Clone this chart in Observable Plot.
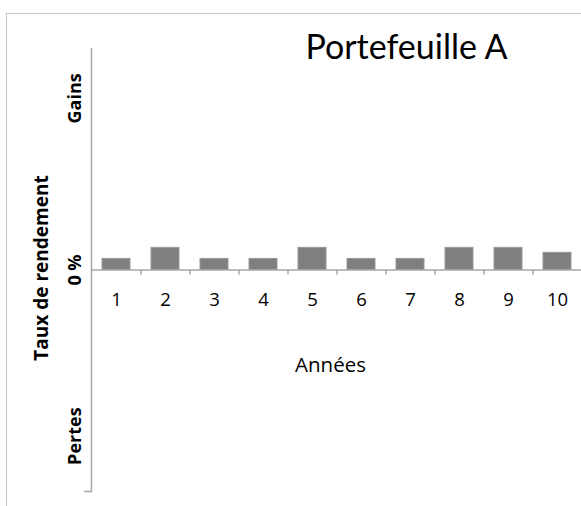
<!DOCTYPE html>
<html>
<head>
<meta charset="utf-8">
<script src="https://cdn.jsdelivr.net/npm/d3@7"></script>
<script src="https://cdn.jsdelivr.net/npm/@observablehq/plot@0.6"></script>
<style>
  html, body { margin: 0; padding: 0; background: #fff; }
  body { width: 581px; height: 506px; position: relative; overflow: hidden; font-family: "Open Sans", sans-serif; }
  #border { position: absolute; left: 6px; top: 13px; width: 600px; height: 520px;
            border-top: 1.5px solid #c4c4c4; border-left: 1.5px solid #c4c4c4; }
  #chart { position: absolute; left: 0; top: 0; }
</style>
</head>
<body>
<div id="border"></div>
<div id="chart"></div>
<script>
// Data
const years = ["1", "2", "3", "4", "5", "6", "7", "8", "9", "10"];
const returns = [1.0, 2.0, 1.0, 1.0, 2.0, 1.0, 1.0, 2.0, 2.0, 1.55];
const yDomain = [-20, 20];
const yTickValues = [15.5, 0, -15];
const yTickLabels = ["Gains", "0 %", "Pertes"];
const title = "Portefeuille A";
const xTitle = "Années";
const yTitle = "Taux de rendement";

const data = years.map((y, i) => ({year: y, value: returns[i]}));
const yLabels = yTickValues.map((v, i) => ({v, label: yTickLabels[i]}));

const W = 581, H = 506, mL = 91, mR = 0, mT = 48, mB = 15;
const step = (W - mL - mR) / years.length;
const OS = "'Open Sans', sans-serif";

const chart = Plot.plot({
  width: W,
  height: H,
  marginLeft: mL,
  marginRight: mR,
  marginTop: mT,
  marginBottom: mB,
  style: {fontFamily: OS, background: "transparent", overflow: "visible"},
  x: {type: "band", domain: years, paddingInner: 0.43, paddingOuter: 0.215, axis: null},
  y: {domain: yDomain, axis: null},
  marks: [
    Plot.frame({anchor: "left", stroke: "#a6a6a6", strokeWidth: 1.5}),
    Plot.axisY({ticks: [yDomain[0]], tickFormat: () => "", tickSize: 7, stroke: "#a6a6a6", strokeWidth: 1.5}),
    Plot.barY(data, {x: "year", y: "value", fill: "#7f7f7f", stroke: "#999999", strokeWidth: 1}),
    Plot.ruleY([0], {stroke: "#a6a6a6", strokeWidth: 1.5}),
    Plot.ruleX(years.slice(0, -1), {x: d => d, y1: 0, y2: -0.45, dx: step / 2, stroke: "#a6a6a6", strokeWidth: 1.5}),
    Plot.text(years, {x: d => d, y: 0, dy: 30, text: d => d, fontSize: 18.5, fill: "#000"}),
    Plot.text(yLabels, {y: "v", text: "label", frameAnchor: "left", dx: -16, rotate: -90, fontSize: 18, fontWeight: "bold", fill: "#000", textAnchor: "middle", lineAnchor: "middle"}),
    Plot.text([yTitle], {y: 0, text: d => d, frameAnchor: "left", dx: -50, dy: -2, rotate: -90, fontSize: 19, fontWeight: "bold", fill: "#000", textAnchor: "middle", lineAnchor: "middle"}),
    Plot.text([xTitle], {y: 0, text: d => d, frameAnchor: "middle", dx: -6, dy: 95, fontSize: 20.5, fill: "#000"}),
    Plot.text([title], {text: d => d, frameAnchor: "top-right", dx: -74, dy: 10, textAnchor: "end", lineAnchor: "bottom", fontSize: 34, fontFamily: "Lato, sans-serif", fill: "#000"})
  ]
});
document.getElementById("chart").appendChild(chart);
</script>
</body>
</html>
